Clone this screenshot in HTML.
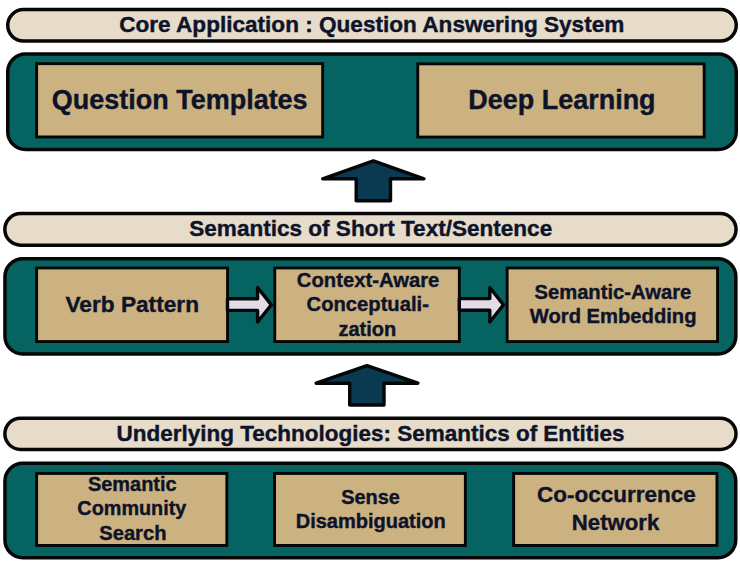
<!DOCTYPE html>
<html>
<head>
<meta charset="utf-8">
<style>
html,body{margin:0;padding:0;background:#fff;}
body{width:740px;height:563px;position:relative;overflow:hidden;font-family:"Liberation Sans",sans-serif;font-weight:bold;color:#0d1429;}
.t{position:absolute;width:600px;white-space:nowrap;text-align:center;-webkit-text-stroke:0.4px #0d1429;}
svg{position:absolute;left:0;top:0;}
</style>
</head>
<body>
<svg width="740" height="563" viewBox="0 0 740 563">
<rect x="7.75" y="9.55" width="728.50" height="31.50" rx="15.75" fill="#e7dbca" stroke="#060606" stroke-width="3.5"/>
<rect x="4.85" y="213.55" width="731.20" height="31.70" rx="15.85" fill="#e7dbca" stroke="#060606" stroke-width="3.5"/>
<rect x="4.85" y="418.15" width="731.20" height="31.30" rx="15.65" fill="#e7dbca" stroke="#060606" stroke-width="3.5"/>
<rect x="7.75" y="53.95" width="728.50" height="95.50" rx="17.75" fill="#056462" stroke="#060606" stroke-width="3.5"/>
<rect x="4.95" y="258.75" width="730.90" height="95.30" rx="17.75" fill="#056462" stroke="#060606" stroke-width="3.5"/>
<rect x="4.95" y="463.35" width="730.80" height="94.40" rx="17.75" fill="#056462" stroke="#060606" stroke-width="3.5"/>
<rect x="36.65" y="63.65" width="286.00" height="73.30" rx="0.00" fill="#cdb281" stroke="#060606" stroke-width="2.9"/>
<rect x="417.75" y="63.85" width="286.40" height="73.20" rx="0.00" fill="#cdb281" stroke="#060606" stroke-width="2.9"/>
<rect x="36.65" y="267.95" width="190.90" height="73.60" rx="0.00" fill="#cdb281" stroke="#060606" stroke-width="2.9"/>
<rect x="274.75" y="267.95" width="184.60" height="73.60" rx="0.00" fill="#cdb281" stroke="#060606" stroke-width="2.9"/>
<rect x="507.15" y="267.95" width="210.40" height="73.60" rx="0.00" fill="#cdb281" stroke="#060606" stroke-width="2.9"/>
<rect x="36.65" y="473.45" width="190.20" height="72.00" rx="0.00" fill="#cdb281" stroke="#060606" stroke-width="2.9"/>
<rect x="274.55" y="473.45" width="190.80" height="72.00" rx="0.00" fill="#cdb281" stroke="#060606" stroke-width="2.9"/>
<rect x="513.65" y="473.45" width="203.30" height="72.00" rx="0.00" fill="#cdb281" stroke="#060606" stroke-width="2.9"/>
<polygon points="373.40,160.90 424.00,178.80 390.50,178.80 390.50,200.80 356.20,200.80 356.20,178.80 322.70,178.80" fill="#0a3a52" stroke="#060606" stroke-width="3.4" stroke-linejoin="round"/>
<polygon points="367.00,365.60 417.90,383.20 384.00,383.20 384.00,405.00 349.70,405.00 349.70,383.20 316.20,383.20" fill="#0a3a52" stroke="#060606" stroke-width="3.4" stroke-linejoin="round"/>
<polygon points="227.50,298.80 257.60,298.80 257.60,287.50 271.30,304.90 257.60,322.00 257.60,310.40 227.50,310.40" fill="#e2dbe8" stroke="#060606" stroke-width="3.4" stroke-linejoin="round"/>
<polygon points="459.30,298.60 489.80,298.60 489.80,287.50 503.50,304.90 489.80,322.00 489.80,310.20 459.30,310.20" fill="#e2dbe8" stroke="#060606" stroke-width="3.4" stroke-linejoin="round"/>
</svg>
<div class="t" style="left:71.74px;top:14.00px;font-size:22.59px;line-height:22.59px;letter-spacing:0.000px;">Core Application : Question Answering System</div>
<div class="t" style="left:-120.26px;top:86.66px;font-size:26.98px;line-height:26.98px;letter-spacing:0.000px;">Question Templates</div>
<div class="t" style="left:261.96px;top:86.78px;font-size:26.96px;line-height:26.96px;letter-spacing:0.000px;">Deep Learning</div>
<div class="t" style="left:70.74px;top:218.43px;font-size:22.55px;line-height:22.55px;letter-spacing:0.000px;">Semantics of Short Text/Sentence</div>
<div class="t" style="left:-167.76px;top:292.73px;font-size:22.67px;line-height:22.67px;letter-spacing:0.000px;">Verb Pattern</div>
<div class="t" style="left:68.12px;top:269.98px;font-size:20.25px;line-height:20.25px;letter-spacing:0.000px;">Context-Aware</div>
<div class="t" style="left:67.74px;top:294.24px;font-size:20.19px;line-height:20.19px;letter-spacing:0.000px;">Conceptuali-</div>
<div class="t" style="left:67.38px;top:318.61px;font-size:19.99px;line-height:19.99px;letter-spacing:0.000px;">zation</div>
<div class="t" style="left:312.86px;top:282.13px;font-size:20.20px;line-height:20.20px;letter-spacing:0.000px;">Semantic-Aware</div>
<div class="t" style="left:313.16px;top:306.33px;font-size:20.20px;line-height:20.20px;letter-spacing:0.000px;">Word Embedding</div>
<div class="t" style="left:70.56px;top:423.08px;font-size:22.49px;line-height:22.49px;letter-spacing:0.000px;">Underlying Technologies: Semantics of Entities</div>
<div class="t" style="left:-167.76px;top:474.63px;font-size:19.97px;line-height:19.97px;letter-spacing:0.000px;">Semantic</div>
<div class="t" style="left:-168.16px;top:498.95px;font-size:19.82px;line-height:19.82px;letter-spacing:0.000px;">Community</div>
<div class="t" style="left:-167.12px;top:522.78px;font-size:20.14px;line-height:20.14px;letter-spacing:0.000px;">Search</div>
<div class="t" style="left:70.48px;top:487.58px;font-size:19.90px;line-height:19.90px;letter-spacing:0.000px;">Sense</div>
<div class="t" style="left:70.76px;top:510.67px;font-size:20.03px;line-height:20.03px;letter-spacing:0.000px;">Disambiguation</div>
<div class="t" style="left:316.36px;top:484.06px;font-size:22.51px;line-height:22.51px;letter-spacing:0.000px;">Co-occurrence</div>
<div class="t" style="left:315.58px;top:512.14px;font-size:22.19px;line-height:22.19px;letter-spacing:0.000px;">Network</div>
</body>
</html>
